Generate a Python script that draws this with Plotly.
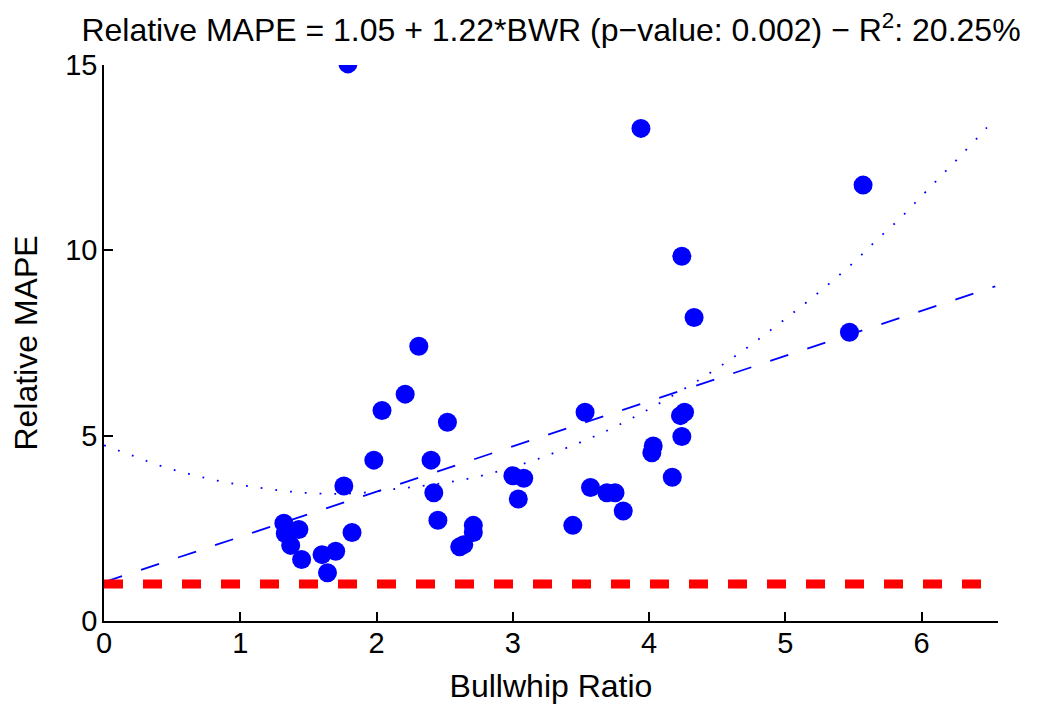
import plotly.graph_objects as go

# scatter points (Bullwhip Ratio, Relative MAPE)
bwr = [1.79, 3.94, 5.57, 4.24, 4.33, 5.47, 2.31, 2.21, 2.04, 2.52,
       3.53, 4.26, 4.23, 4.24, 4.03, 4.02, 1.98, 2.40, 4.17, 3.00,
       3.08, 1.76, 3.57, 3.69, 3.75, 2.42, 3.04, 3.81, 2.45, 1.32,
       3.44, 2.71, 1.43, 1.82, 2.71, 1.33, 1.37, 2.64, 2.61, 1.70,
       1.60, 1.45, 1.64]
mape = [15.03, 13.29, 11.76, 9.84, 8.19, 7.79, 7.41, 6.12, 5.68, 5.36,
        5.63, 5.63, 5.54, 4.98, 4.72, 4.54, 4.34, 4.34, 3.88, 3.92,
        3.85, 3.64, 3.60, 3.46, 3.46, 3.46, 3.29, 2.97, 2.72, 2.64,
        2.58, 2.58, 2.47, 2.39, 2.39, 2.36, 2.04, 2.06, 2.00, 1.88,
        1.79, 1.66, 1.30]

# linear fit line endpoints
fit_x = [0.0, 6.54]
fit_y = [1.05, 9.03]

# dotted curve, read point by point
curve_x = [0.0, 0.21, 0.41, 0.62, 0.83, 1.04, 1.25, 1.47, 1.68, 1.90,
           2.11, 2.33, 2.54, 2.75, 2.96, 3.16, 3.36, 3.56, 3.75, 3.94,
           4.13, 4.32, 4.50, 4.68, 4.85, 5.02, 5.19, 5.36, 5.52, 5.67,
           5.83, 5.98, 6.13, 6.28, 6.43, 6.52]
curve_y = [4.74, 4.46, 4.19, 3.97, 3.79, 3.65, 3.54, 3.46, 3.43, 3.46,
           3.55, 3.64, 3.75, 3.90, 4.11, 4.34, 4.62, 4.92, 5.24, 5.60,
           5.99, 6.40, 6.82, 7.27, 7.73, 8.21, 8.70, 9.22, 9.74, 10.28,
           10.82, 11.39, 11.96, 12.53, 13.12, 13.48]

# reference level
ref_x = [0.0, 6.56]
ref_y = [1.0, 1.0]

x_ticks = [0, 1, 2, 3, 4, 5, 6]
y_ticks = [0, 5, 10, 15]

FONT = 'Liberation Sans, Arial, sans-serif'

fig = go.Figure()
fig.add_trace(go.Scatter(x=bwr, y=mape, mode='markers',
                         marker=dict(size=19, color='rgb(0,0,255)', line=dict(width=0))))
fig.add_trace(go.Scatter(x=fit_x, y=fit_y, mode='lines',
                         line=dict(color='rgb(0,0,255)', width=1.8, dash='19px,20px')))
fig.add_trace(go.Scatter(x=curve_x, y=curve_y, mode='lines', line_shape='spline',
                         line=dict(color='rgb(0,0,255)', width=1.8, dash='1.8px,13px')))
fig.add_trace(go.Scatter(x=ref_x, y=ref_y, mode='lines',
                         line=dict(color='rgb(255,0,0)', width=9, dash='19px,20px')))

axis_common = dict(
    showline=True, linecolor='black', linewidth=1.5, mirror=False,
    ticks='inside', ticklen=9, tickwidth=1.5, tickcolor='black',
    showgrid=False, zeroline=False, automargin=False,
    tickfont=dict(family=FONT, size=29, color='black'),
)

# the page body adds an 8px offset, so the figure is a little smaller than the window
fig.update_layout(
    width=1035, height=701,
    margin=dict(l=96, r=45, t=57, b=88),
    plot_bgcolor='white', paper_bgcolor='white',
    showlegend=False,
    title=dict(
        text='Relative MAPE = 1.05 + 1.22*BWR (p\u2212value: 0.002) \u2212 R<sup>2</sup>: 20.25%',
        font=dict(family=FONT, size=32, color='black'),
        x=0.5, xanchor='center', xref='paper',
        y=1 - 22 / 701, yanchor='middle', yref='container',
    ),
    xaxis=dict(
        range=[0, 6.56], tickvals=x_ticks, ticklabelstandoff=-5,
        title=dict(text='Bullwhip Ratio', font=dict(family=FONT, size=32, color='black'),
                   standoff=17),
        **axis_common,
    ),
    yaxis=dict(
        range=[0, 15], tickvals=y_ticks, ticklabelstandoff=-1,
        title=dict(text='Relative MAPE', font=dict(family=FONT, size=32, color='black'),
                   standoff=20),
        **axis_common,
    ),
)

fig.write_html('out.html')
